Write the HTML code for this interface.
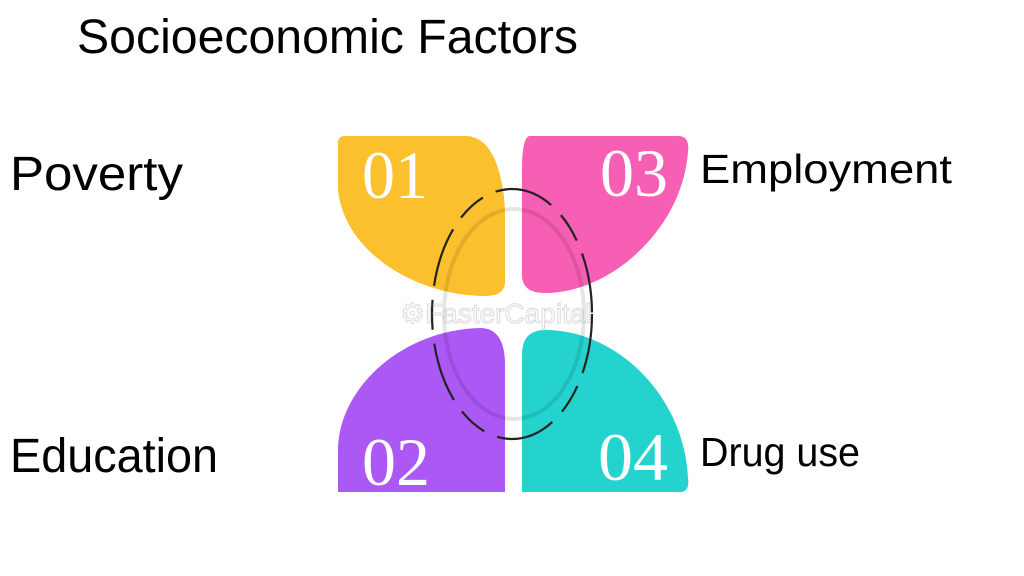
<!DOCTYPE html>
<html><head><style>html,body{margin:0;padding:0;background:#fff;width:1024px;height:576px;overflow:hidden}</style></head>
<body>
<svg width="1024" height="576" viewBox="0 0 1024 576" xmlns="http://www.w3.org/2000/svg">
<rect width="1024" height="576" fill="#fff"/>
<g font-family="Liberation Sans, sans-serif" fill="#000">
<text x="77" y="53" font-size="48" textLength="501" lengthAdjust="spacingAndGlyphs">Socioeconomic Factors</text>
<text x="10" y="190" font-size="48" textLength="173" lengthAdjust="spacingAndGlyphs">Poverty</text>
<text x="10" y="472" font-size="48" textLength="208" lengthAdjust="spacingAndGlyphs">Education</text>
<text x="700" y="183" font-size="41" textLength="252" lengthAdjust="spacingAndGlyphs">Employment</text>
<text x="700" y="466" font-size="41" textLength="160" lengthAdjust="spacingAndGlyphs">Drug use</text>
</g>
<!-- yellow -->
<path d="M345 136 H465 Q490 136 500 175 Q505 195 505 215 V282 Q505 296 485 296 C420 296 345 255 338 190 V143 Q338 136 345 136 Z" fill="#fbc02d"/>
<!-- pink -->
<path d="M530 136 H678 Q690 136 688 152 C682 230 610 293 545 293 Q522 293 522 275 V170 Q522 136 530 136 Z" fill="#f65fb4"/>
<!-- purple -->
<path d="M338 492 H505 V365 Q505 328 480 328 C400 330 338 390 338 450 Z" fill="#ac58f4"/>
<!-- teal -->
<path d="M522 492 H680 Q690 492 688 478 C685 400 620 330 545 330 Q522 330 522 355 Z" fill="#24d3cd"/>
<ellipse cx="514" cy="314" rx="70" ry="105" fill="none" stroke="rgba(0,0,0,0.1)" stroke-width="4"/>
<ellipse cx="512" cy="314" rx="80" ry="125" fill="none" stroke="#222" stroke-width="2.2" stroke-dasharray="60 14 30 14"/>
<text x="400" y="323" font-family="Liberation Sans, sans-serif" font-size="28" fill="none" stroke="rgba(150,150,150,0.35)" stroke-width="1">⚙FasterCapital</text>
<g font-family="Liberation Serif, serif" fill="#fff" font-size="68">
<text x="362" y="198" textLength="66" lengthAdjust="spacingAndGlyphs">01</text>
<text x="600" y="196" textLength="68" lengthAdjust="spacingAndGlyphs">03</text>
<text x="362" y="485" textLength="68" lengthAdjust="spacingAndGlyphs">02</text>
<text x="598" y="480" textLength="70" lengthAdjust="spacingAndGlyphs">04</text>
</g>
</svg>
</body></html>
